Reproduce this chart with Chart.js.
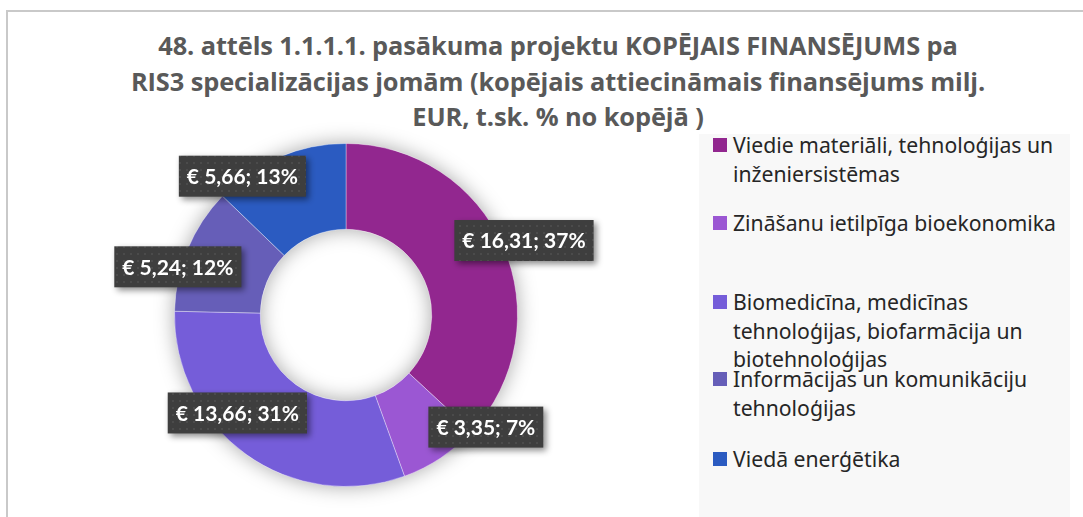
<!DOCTYPE html>
<html lang="lv">
<head>
<meta charset="utf-8">
<title>RIS3 specializācijas jomas</title>
<script src="https://cdn.jsdelivr.net/npm/chart.js@4.4.1/dist/chart.umd.min.js"></script>
<style>
  html, body { margin: 0; padding: 0; background: #fff; overflow: hidden; width: 1083px; height: 517px; }
  #frame { position: absolute; left: 6px; top: 10px; width: 1200px; height: 600px;
           border-left: 2px solid #c9c9c9; border-top: 2px solid #c9c9c9; }
  #title { position: absolute; left: 0; top: 28px; width: 1116px; text-align: center;
           font: bold 25.4px "Open Sans", sans-serif; line-height: 35.5px; color: #595959; letter-spacing: -0.1px; }
  #legend { position: absolute; left: 699px; top: 134px; width: 371px; height: 400px; background: #f8f8f8; }
  .item { position: absolute; left: 14px; font: 21.2px "Noto Sans", sans-serif; color: #262626; line-height: 28.5px; }
  .item i { position: absolute; left: 0; top: 7px; width: 14px; height: 14px; }
  .item span { display: block; padding-left: 20px; white-space: nowrap; }
  #chartBox { position: absolute; left: 8px; top: 12px; width: 680px; height: 505px; }
</style>
</head>
<body>
<div id="frame"></div>
<div id="title"></div>
<div id="legend"></div>
<div id="chartBox"><canvas id="myChart"></canvas></div>
<script>
// RIS3 jomas (legend text, split the way it wraps)
const jomas = [
    ['Viedie materiāli, tehnoloģijas un', 'inženiersistēmas'],
    ['Zināšanu ietilpīga bioekonomika'],
    ['Biomedicīna, medicīnas', 'tehnoloģijas, biofarmācija un', 'biotehnoloģijas'],
    ['Informācijas un komunikāciju', 'tehnoloģijas'],
    ['Viedā enerģētika']
];
// kopējais attiecināmais finansējums, milj. EUR
const finansejums = [16.31, 3.35, 13.66, 5.24, 5.66];
// % no kopējā, as printed on the labels
const procenti = [37, 7, 31, 12, 13];

const titleLines = [
    '48. attēls 1.1.1.1. pasākuma projektu KOPĒJAIS FINANSĒJUMS pa',
    'RIS3 specializācijas jomām (kopējais attiecināmais finansējums milj.',
    'EUR, t.sk. % no kopējā )'
];

const colors = ['#92278f', '#9b57d3', '#755dd9', '#665eb8', '#2b5bc1'];

// label placement relative to each slice: turn (deg) from mid angle, reach as part of outer radius
const labelTurn = [0.9, -17.7, 12.3, -6.6, -13.7];
const labelReach = [1.125, 1.045, 0.853, 1.02, 1.01];
// legend rows, top offset of each item inside the legend box
const legendTops = [-3, 74.5, 154, 231, 310.5];

document.getElementById('title').innerHTML = titleLines.map(t => '<div>' + t + '</div>').join('');

const legend = document.getElementById('legend');
jomas.forEach((lines, i) => {
    const el = document.createElement('div');
    el.className = 'item';
    el.style.top = legendTops[i] + 'px';
    el.innerHTML = '<i style="background:' + colors[i] + '"></i>' +
        lines.map(l => '<span>' + l + '</span>').join('');
    legend.appendChild(el);
});

// dark dotted fill for the value boxes
function dotPattern(ctx) {
    const c = document.createElement('canvas');
    c.width = 7; c.height = 7;
    const p = c.getContext('2d');
    p.fillStyle = '#3e3e3e';
    p.fillRect(0, 0, 7, 7);
    p.fillStyle = '#4b4b4b';
    p.fillRect(3, 3, 2, 2);
    return ctx.createPattern(c, 'repeat');
}

const ringShadow = {
    id: 'ringShadow',
    beforeDatasetsDraw(chart) {
        const arc = chart.getDatasetMeta(0).data[0];
        if (!arc) return;
        const {x, y, innerRadius, outerRadius} = arc.getProps(['x', 'y', 'innerRadius', 'outerRadius'], true);
        const ctx = chart.ctx;
        ctx.save();
        ctx.shadowColor = 'rgba(0,0,0,0.35)';
        ctx.shadowBlur = 20;
        ctx.fillStyle = '#fff';
        ctx.beginPath();
        ctx.arc(x, y, outerRadius, 0, Math.PI * 2);
        ctx.arc(x, y, innerRadius, 0, Math.PI * 2, true);
        ctx.fill();
        ctx.restore();
    }
};

const boxLabels = {
    id: 'boxLabels',
    afterDatasetsDraw(chart) {
        const ctx = chart.ctx;
        const fill = dotPattern(ctx);
        chart.getDatasetMeta(0).data.forEach((arc, i) => {
            const p = arc.getProps(['x', 'y', 'startAngle', 'endAngle', 'outerRadius'], true);
            const mid = (p.startAngle + p.endAngle) / 2 + labelTurn[i] * Math.PI / 180;
            const r = p.outerRadius * labelReach[i];
            const cx = p.x + Math.cos(mid) * r;
            const cy = p.y + Math.sin(mid) * r;
            const text = '€ ' + finansejums[i].toFixed(2).replace('.', ',') + '; ' + procenti[i] + '%';
            ctx.save();
            ctx.font = 'bold 21px Lato';
            const w = ctx.measureText(text).width + 16;
            const h = 41;
            ctx.shadowColor = 'rgba(0,0,0,0.45)';
            ctx.shadowBlur = 6;
            ctx.shadowOffsetX = 3;
            ctx.shadowOffsetY = 3;
            ctx.fillStyle = fill;
            ctx.fillRect(cx - w / 2, cy - h / 2, w, h);
            ctx.shadowColor = 'transparent';
            ctx.fillStyle = '#fff';
            ctx.textAlign = 'center';
            ctx.textBaseline = 'middle';
            ctx.fillText(text, cx, cy + 1);
            ctx.restore();
        });
    }
};

var ctx = document.getElementById('myChart').getContext('2d');
var chart = new Chart(ctx, {
    type: 'doughnut',
    data: {
        labels: jomas.map(l => l.join(' ')),
        datasets: [{
            data: finansejums,
            backgroundColor: colors,
            borderColor: 'rgba(255,255,255,0.35)',
            borderWidth: 1
        }]
    },
    options: {
        responsive: true,
        maintainAspectRatio: false,
        animation: false,
        cutout: '50%',
        layout: { padding: { left: 166, top: 131, right: 170, bottom: 30 } },
        plugins: {
            legend: { display: false },
            tooltip: { enabled: false }
        }
    },
    plugins: [ringShadow, boxLabels]
});
</script>
</body>
</html>
